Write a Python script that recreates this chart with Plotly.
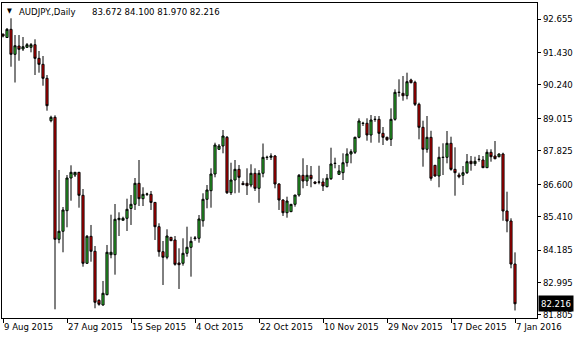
import plotly.graph_objects as go

# bar index (trading days incl. Sunday bars), OHLC
opens = [92.10, 91.977, 92.277, 91.361, 91.665, 91.555, 91.618, 91.618, 91.713, 91.214,
         90.994, 90.481, 88.927, 89.052, 84.579, 84.873, 85.628, 86.826, 86.936, 87.035,
         86.192, 83.700, 84.689, 84.140, 82.343, 82.171, 82.549, 84.015, 84.015, 85.298,
         85.276, 85.349, 85.709, 85.862, 86.632, 86.068, 86.229, 86.229, 85.932, 85.041,
         84.125, 83.920, 84.653, 84.554, 83.711, 83.700, 84.066, 84.286, 84.609, 84.616,
         85.258, 86.046, 86.361, 86.973, 87.879, 88.000, 88.318, 86.287, 86.753, 87.145,
         86.632, 86.632, 86.570, 86.999, 86.449, 86.999, 87.578, 87.585, 87.633, 86.607,
         86.020, 85.554, 85.591, 85.862, 86.203, 86.925, 86.717, 86.925, 86.680, 86.673,
         86.680, 86.508, 86.801, 87.358, 86.962, 87.021, 87.387, 87.706, 87.769, 88.318,
         88.824, 88.832, 88.403, 88.971, 88.978, 88.465, 88.318, 88.245, 88.978, 89.961,
         89.931, 89.843, 90.419, 90.335, 89.528, 88.685, 87.879, 88.318, 87.292, 86.900,
         87.578, 87.585, 88.099, 87.145, 86.936, 86.925, 87.021, 87.439, 87.351, 87.505,
         87.486, 87.204, 87.769, 87.633, 87.607, 87.706, 85.617, 85.250, 83.672]
highs = [92.12, 92.325, 92.681, 92.068, 92.068, 91.995, 91.775, 91.775, 91.911, 91.482,
         91.299, 90.602, 89.110, 89.125, 87.120, 85.763, 86.936, 87.292, 87.046, 87.046,
         86.423, 84.737, 85.104, 84.334, 82.380, 83.051, 84.371, 85.481, 85.873, 85.569,
         85.408, 86.068, 86.203, 86.826, 87.486, 86.486, 86.287, 86.350, 85.943, 85.166,
         84.517, 84.946, 84.664, 84.700, 84.249, 84.616, 85.041, 84.675, 84.700, 85.470,
         86.266, 86.570, 87.182, 88.121, 88.073, 88.586, 88.366, 87.387, 87.486, 87.303,
         86.717, 87.182, 87.329, 87.182, 87.120, 88.091, 87.644, 87.732, 87.670, 86.632,
         86.046, 86.141, 85.873, 86.203, 86.973, 87.549, 87.303, 87.266, 86.706, 87.277,
         86.816, 86.973, 87.937, 87.571, 87.303, 87.732, 87.915, 87.879, 88.340, 89.015,
         88.887, 89.015, 89.136, 89.099, 89.099, 88.696, 88.340, 89.381, 90.078, 90.445,
         90.566, 90.687, 90.467, 90.393, 89.587, 88.927, 89.099, 88.557, 87.303, 87.974,
         88.099, 88.549, 88.340, 87.952, 87.021, 87.266, 87.706, 87.633, 87.607, 87.670,
         87.633, 87.879, 87.879, 88.183, 87.732, 87.754, 86.324, 85.349, 84.100]
lows = [91.98, 91.958, 90.906, 90.327, 91.126, 91.482, 91.592, 91.434, 90.602, 90.687,
        90.210, 89.294, 88.868, 82.013, 84.433, 84.103, 85.019, 85.994, 86.863, 85.738,
        83.575, 83.674, 83.758, 82.050, 82.145, 82.145, 82.527, 83.883, 83.282, 84.700,
        85.276, 84.884, 85.104, 85.654, 85.800, 85.800, 86.166, 85.654, 84.554, 83.942,
        82.904, 83.846, 84.517, 83.612, 82.758, 83.612, 83.942, 83.209, 84.528, 84.455,
        85.041, 85.716, 85.738, 86.852, 87.853, 87.732, 86.240, 86.203, 86.266, 86.287,
        86.570, 86.203, 86.486, 86.350, 85.918, 86.852, 87.486, 87.486, 86.449, 85.654,
        85.434, 85.371, 85.580, 85.774, 86.141, 86.449, 86.533, 86.486, 86.596, 86.596,
        86.350, 86.486, 86.753, 87.182, 86.936, 86.753, 87.241, 87.365, 87.706, 88.282,
        88.733, 88.194, 88.121, 88.887, 88.121, 88.036, 88.183, 88.000, 88.927, 89.807,
        89.660, 89.711, 90.298, 89.466, 88.245, 87.241, 87.754, 86.728, 86.874, 86.486,
        86.936, 87.365, 87.094, 86.178, 86.816, 86.570, 86.973, 87.094, 87.266, 87.424,
        87.193, 87.193, 87.424, 87.512, 87.585, 85.258, 84.836, 83.516, 81.970]
closes = [92.03, 92.277, 91.361, 91.676, 91.544, 91.640, 91.713, 91.713, 91.214, 90.994,
          90.481, 89.477, 89.052, 84.579, 84.873, 85.654, 86.826, 87.035, 87.035, 86.192,
          83.700, 84.689, 84.140, 82.270, 82.197, 82.600, 84.103, 84.103, 85.313, 85.349,
          85.349, 85.679, 85.862, 86.632, 86.068, 86.229, 86.240, 85.932, 85.041, 84.125,
          83.920, 84.700, 84.528, 83.663, 83.648, 84.066, 84.286, 84.506, 84.627, 85.324,
          86.046, 86.387, 86.973, 88.036, 88.000, 88.366, 86.287, 86.753, 87.145, 86.852,
          86.581, 86.545, 86.999, 86.449, 86.999, 87.585, 87.585, 87.633, 86.607, 86.020,
          85.554, 85.983, 85.862, 86.203, 86.925, 86.717, 86.925, 86.801, 86.632, 86.680,
          86.533, 86.816, 87.340, 87.365, 87.083, 87.387, 87.706, 87.791, 88.318, 88.916,
          88.832, 88.403, 88.953, 88.978, 88.465, 88.318, 88.231, 88.978, 89.968, 89.968,
          89.843, 90.357, 90.320, 89.528, 88.685, 87.879, 88.318, 86.816, 86.900, 87.585,
          87.585, 88.099, 87.145, 87.021, 86.874, 87.021, 87.424, 87.351, 87.439, 87.512,
          87.204, 87.769, 87.607, 87.534, 87.706, 85.617, 85.250, 83.672, 82.216]
bars = list(range(len(opens)))

date_ticks = [0, 16, 32, 48, 64, 80, 96, 112, 128]
date_labels = ["9 Aug 2015", "27 Aug 2015", "15 Sep 2015", "4 Oct 2015", "22 Oct 2015",
               "10 Nov 2015", "29 Nov 2015", "17 Dec 2015", "7 Jan 2016"]
price_ticks = [92.655, 91.430, 90.240, 89.015, 87.825, 86.600, 85.410, 84.185, 82.995, 81.805]
symbol = "AUDJPY.,Daily"
last_ohlc = "83.672 84.100 81.970 82.216"
last_price = 82.216

FONT = "Tahoma, 'DejaVu Sans Condensed', 'Liberation Sans', sans-serif"

fig = go.Figure(go.Candlestick(
    x=bars, open=opens, high=highs, low=lows, close=closes,
    increasing=dict(line=dict(color="black", width=1), fillcolor="#33cc33"),
    decreasing=dict(line=dict(color="black", width=1), fillcolor="#e00000"),
    hoverinfo="skip", showlegend=False,
))

fig.update_layout(
    width=580, height=340,
    margin=dict(l=2, r=43, t=3, b=22),
    paper_bgcolor="white", plot_bgcolor="white",
    boxgap=0.25,
    font=dict(family=FONT, size=9.5, color="black"),
    xaxis=dict(
        range=[-0.25, 133.5], rangeslider=dict(visible=False),
        showgrid=False, zeroline=False,
        showline=True, mirror=True, linecolor="black", linewidth=1,
        ticks="outside", ticklen=4, tickcolor="black", tickwidth=1,
        tickvals=date_ticks, ticktext=date_labels,
        ticklabelposition="outside right",
        tickfont=dict(family=FONT, size=9.5, color="black"),
    ),
    yaxis=dict(
        range=[81.694, 93.242], side="right",
        showgrid=False, zeroline=False,
        showline=True, mirror=True, linecolor="black", linewidth=1,
        ticks="outside", ticklen=3, tickcolor="black", tickwidth=1,
        tickvals=price_ticks, tickformat=".3f",
        tickfont=dict(family=FONT, size=9.5, color="black"),
    ),
    annotations=[
        dict(text="▼", xref="paper", yref="paper", x=0, y=1, xanchor="left", yanchor="middle",
             xshift=3, yshift=-8, showarrow=False, font=dict(family=FONT, size=7, color="black")),
        dict(text=symbol, xref="paper", yref="paper", x=0, y=1, xanchor="left", yanchor="middle",
             xshift=15, yshift=-8, showarrow=False, font=dict(family=FONT, size=9.5, color="black")),
        dict(text=last_ohlc, xref="paper", yref="paper", x=0, y=1, xanchor="left", yanchor="middle",
             xshift=88, yshift=-8, showarrow=False, font=dict(family=FONT, size=9.5, color="black")),
        dict(text="%.3f" % last_price, xref="paper", yref="y", x=1, y=last_price,
             xanchor="left", yanchor="middle", xshift=1, showarrow=False,
             bgcolor="black", borderpad=2, font=dict(family=FONT, size=9.5, color="white")),
    ],
)

fig.write_html("out.html")
